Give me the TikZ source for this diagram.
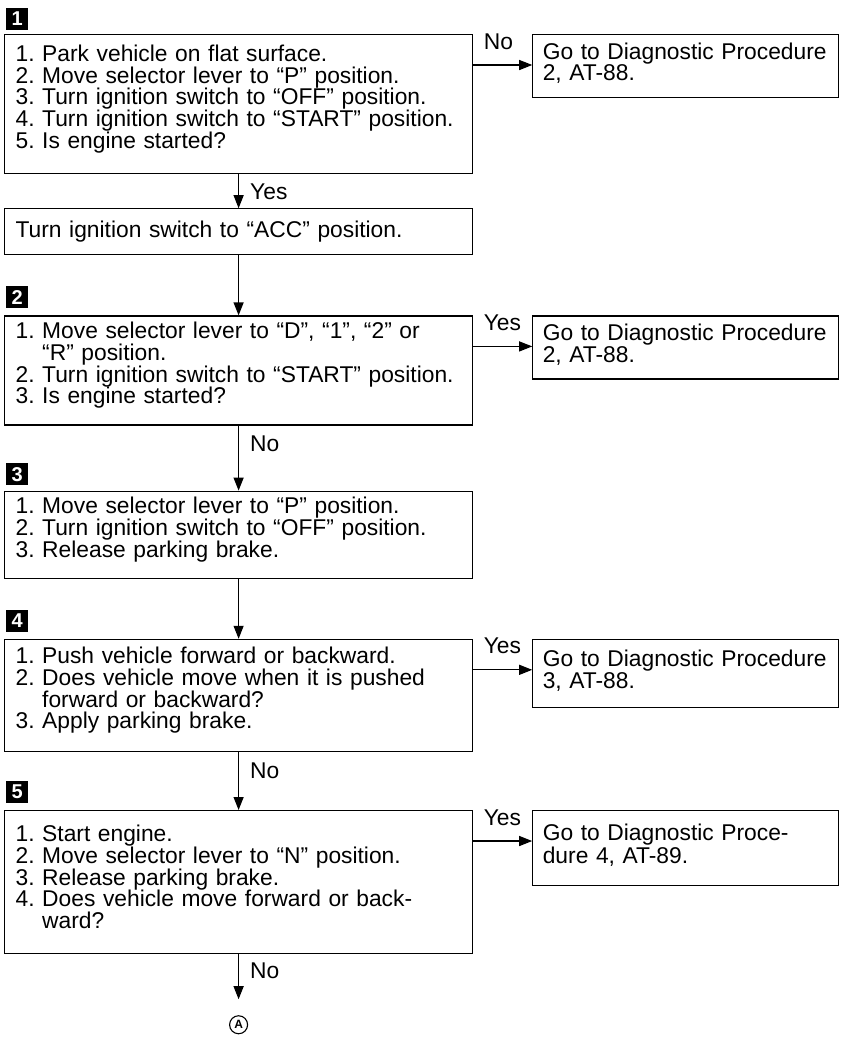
\documentclass[tikz,border=0pt]{standalone}
\usepackage{fontspec}
\setmainfont{Liberation Sans}
\usetikzlibrary{arrows.meta,positioning}
\newcommand{\boxfont}{\frenchspacing\fontsize{22.8}{21.7}\selectfont}
\newcommand{\gofont}{\frenchspacing\fontsize{22.8}{17.5}\selectfont}
\newcommand{\cont}{\hphantom{2.\ }}
\newcommand{\padbox}{\endgraf\vspace{10pt}}
\newcommand{\padgo}{\endgraf\vspace{6pt}}

\begin{document}
\begin{tikzpicture}[
  x=1pt, y=1pt,
  box/.style={draw, line width=1.2pt, align=left, anchor=north west,
    text width=446pt, inner xsep=11pt, inner ysep=0pt, font=\boxfont},
  qbox/.style={box, execute at end node=\padbox},
  gobox/.style={draw, line width=1.2pt, align=left, anchor=north west,
    text width=286pt, inner xsep=10pt, inner ysep=0pt, font=\gofont,
    execute at end node=\padgo},
  numtag/.style={fill=black, text=white, anchor=south west, minimum size=22pt,
    inner sep=0pt, font=\bfseries\fontsize{20}{20}\selectfont},
  flow/.style={-{Triangle[length=13pt,width=10pt]}, line width=1.2pt},
  lbl/.style={inner sep=0pt, font=\boxfont}
]
  \useasboundingbox (0,0) rectangle (851,-1039);
  \node[qbox, minimum height=139pt] (q1) at (4,-34) {1. Park vehicle on flat surface.\\2. Move selector lever to “P” position.\\3. Turn ignition switch to “OFF” position.\\4. Turn ignition switch to “START” position.\\5. Is engine started?};
  \node[box, minimum height=46pt, below=34pt of q1] (acc) {Turn ignition switch to “ACC” position.};
  \node[qbox, minimum height=109pt, below=60pt of acc] (q2) {1. Move selector lever to “D”, “1”, “2” or\\\cont“R” position.\\2. Turn ignition switch to “START” position.\\3. Is engine started?};
  \node[qbox, minimum height=87pt, below=65pt of q2] (q3) {1. Move selector lever to “P” position.\\2. Turn ignition switch to “OFF” position.\\3. Release parking brake.};
  \node[qbox, minimum height=112pt, below=60pt of q3] (q4) {1. Push vehicle forward or backward.\\2. Does vehicle move when it is pushed\\\cont forward or backward?\\3. Apply parking brake.};
  \node[qbox, minimum height=143pt, below=58pt of q4] (q5) {1. Start engine.\\2. Move selector lever to “N” position.\\3. Release parking brake.\\4. Does vehicle move forward or back-\\\cont ward?};
  \node[circle, draw, line width=1.1pt, minimum size=18pt, inner sep=0pt, font=\bfseries\fontsize{12}{12}\selectfont, below=61pt of q5] (ca) {A};

  \node[numtag, above=4pt of q1.north west, anchor=south west, xshift=2pt] (t1) {1};
  \node[numtag, above=7pt of q2.north west, anchor=south west, xshift=2pt] (t2) {2};
  \node[numtag, above=5pt of q3.north west, anchor=south west, xshift=2pt] (t3) {3};
  \node[numtag, above=7pt of q4.north west, anchor=south west, xshift=2pt] (t4) {4};
  \node[numtag, above=7pt of q5.north west, anchor=south west, xshift=2pt] (t5) {5};

  \node[gobox, minimum height=63pt, right=59pt of q1.north east, anchor=north west] (g1) {Go to Diagnostic Procedure\\2, AT-88.};
  \node[gobox, minimum height=63pt, right=59pt of q2.north east, anchor=north west] (g2) {Go to Diagnostic Procedure\\2, AT-88.};
  \node[gobox, minimum height=68pt, right=59pt of q4.north east, anchor=north west] (g4) {Go to Diagnostic Procedure\\3, AT-88.};
  \node[gobox, minimum height=75pt, right=59pt of q5.north east, anchor=north west] (g5) {Go to Diagnostic Proce-\\dure 4, AT-89.};

  \draw[flow] ([yshift=-31pt]q1.north east) -- ([yshift=-31pt]g1.north west) node[lbl, pos=0, anchor=base west, xshift=10pt, yshift=16pt] {No};
  \draw[flow] ([yshift=-31pt]q2.north east) -- ([yshift=-31pt]g2.north west) node[lbl, pos=0, anchor=base west, xshift=10pt, yshift=16pt] {Yes};
  \draw[flow] ([yshift=-31pt]q4.north east) -- ([yshift=-31pt]g4.north west) node[lbl, pos=0, anchor=base west, xshift=10pt, yshift=16pt] {Yes};
  \draw[flow] ([yshift=-31pt]q5.north east) -- ([yshift=-31pt]g5.north west) node[lbl, pos=0, anchor=base west, xshift=10pt, yshift=16pt] {Yes};

  \draw[flow] (q1) -- (acc) node[lbl, pos=0, anchor=north west, xshift=11pt, yshift=-9pt] {Yes};
  \draw[flow] (acc) -- (q2);
  \draw[flow] (q2) -- (q3) node[lbl, pos=0, anchor=north west, xshift=11pt, yshift=-10pt] {No};
  \draw[flow] (q3) -- (q4);
  \draw[flow] (q4) -- (q5) node[lbl, pos=0, anchor=north west, xshift=11pt, yshift=-10pt] {No};
  \draw[flow, shorten >=16pt] (q5) -- (ca) node[lbl, pos=0, anchor=north west, xshift=11pt, yshift=-8pt] {No};
\end{tikzpicture}
\end{document}
